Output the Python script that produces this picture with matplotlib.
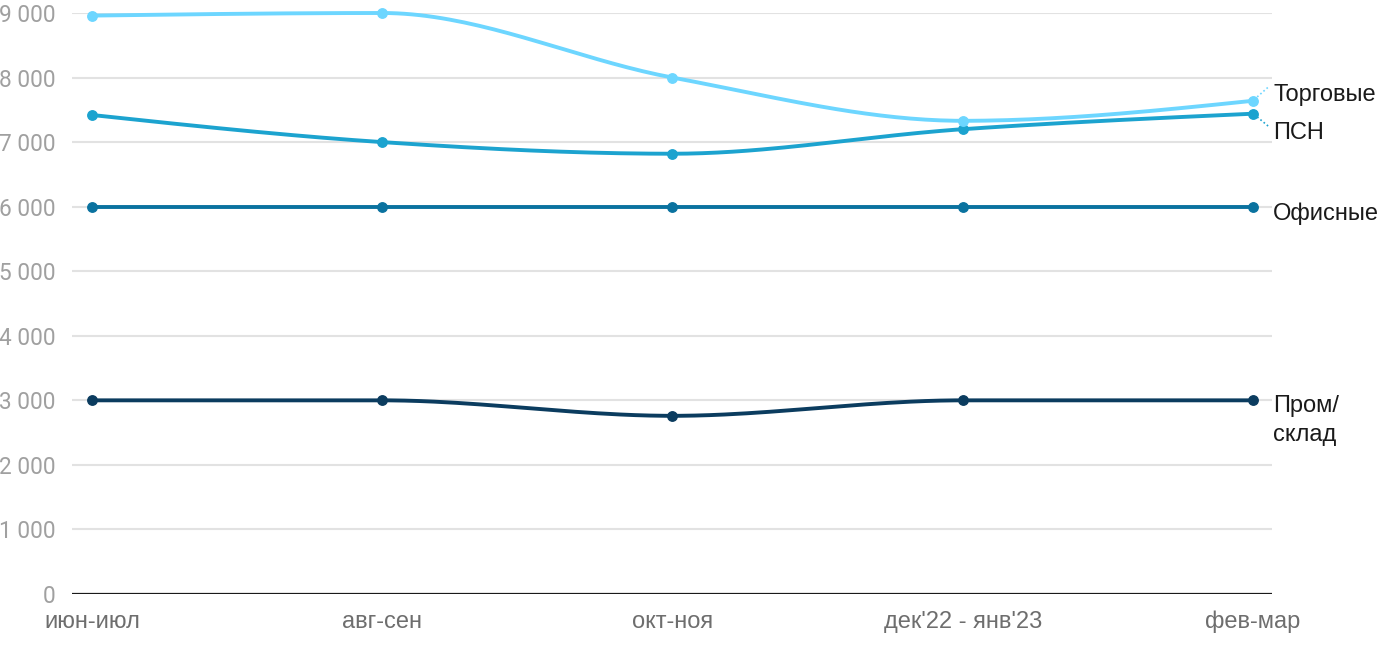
import numpy as np
import matplotlib
matplotlib.use("Agg")
import matplotlib.pyplot as plt
from matplotlib.ticker import FuncFormatter

# periods
periods = ["июн-июл", "авг-сен", "окт-ноя", "дек'22 - янв'23", "фев-мар"]

# series values
torg = [8960, 9000, 8000, 7330, 7640]
psn = [7420, 7000, 6820, 7200, 7440]
ofis = [6000, 6000, 6000, 6000, 6000]
prom = [3000, 3000, 2760, 3000, 3000]

names = ["Торговые", "ПСН", "Офисные", "Пром/\nсклад"]
colors = ["#6dd6ff", "#1ca3cf", "#0a729f", "#0b3c5f"]
y_ticks = [0, 1000, 2000, 3000, 4000, 5000, 6000, 7000, 8000, 9000]


# monotone cubic curve through the points (like d3 curveMonotoneX)
def monotone(x, y, n=40):
    x = np.asarray(x, float)
    y = np.asarray(y, float)
    h = np.diff(x)
    d = np.diff(y) / h
    m = np.zeros_like(y)
    for i in range(1, len(y) - 1):
        if d[i - 1] * d[i] <= 0:
            m[i] = 0
        else:
            s = (d[i - 1] * h[i] + d[i] * h[i - 1]) / (h[i - 1] + h[i])
            m[i] = np.sign(s) * min(abs(s), 2 * min(abs(d[i - 1]), abs(d[i])))
    m[0] = (3 * d[0] - m[1]) / 2 if len(y) > 2 else d[0]
    m[-1] = (3 * d[-1] - m[-2]) / 2 if len(y) > 2 else d[-1]
    if m[0] * d[0] <= 0:
        m[0] = 0
    if m[-1] * d[-1] <= 0:
        m[-1] = 0
    xs, ys = [], []
    for i in range(len(h)):
        t = np.linspace(0, 1, n)
        h00 = 2 * t**3 - 3 * t**2 + 1
        h10 = t**3 - 2 * t**2 + t
        h01 = -2 * t**3 + 3 * t**2
        h11 = t**3 - t**2
        xs.append(x[i] + t * h[i])
        ys.append(h00 * y[i] + h10 * h[i] * m[i] + h01 * y[i + 1] + h11 * h[i] * m[i + 1])
    return np.concatenate(xs), np.concatenate(ys)


fig = plt.figure(figsize=(14, 6.5), dpi=100)
ax = fig.add_axes([72 / 1400, (650 - 594) / 650, 1200 / 1400, (594 - 13) / 650])

x = np.arange(len(periods))
for vals, col in zip([prom, ofis, psn, torg], colors[::-1]):
    sx, sy = monotone(x, vals)
    ax.plot(sx, sy, color=col, lw=2.8, solid_capstyle="round", zorder=3, clip_on=False)
    ax.plot(x, vals, "o", color=col, ms=6.8, zorder=4, clip_on=False)

ax.set_xlim(-0.069, 4.066)
ax.set_ylim(0, 9000)
ax.set_yticks(y_ticks)
ax.yaxis.set_major_formatter(FuncFormatter(lambda v, p: f"{int(v):,}".replace(",", " ")))
ax.set_xticks(x)
ax.set_xticklabels(periods)

for s in ax.spines.values():
    s.set_visible(False)
ax.grid(axis="y", color="#e2e2e2", lw=1.5, zorder=0)
ax.axhline(0, color="#1a1a1a", lw=1.6, zorder=2)
ax.tick_params(axis="both", length=0)
ax.tick_params(axis="y", pad=12, labelsize=16.3, labelcolor="#a0a0a0")
ax.tick_params(axis="x", pad=12, labelsize=17, labelcolor="#6e6e6e")
for lab in ax.get_yticklabels():
    lab.set_fontfamily("Roboto")
for lab in ax.get_xticklabels():
    lab.set_fontfamily("Liberation Sans")

# direct labels on the right
lx = 4.07
lab_kw = dict(fontsize=17, color="#1a1a1a", family="Liberation Sans", va="center", ha="left")
ax.text(lx, 7735, names[0], **lab_kw)
ax.text(lx, 7145, names[1], **lab_kw)
ax.text(lx, 5885, names[2], **lab_kw)
ax.text(lx, 3090, names[3], fontsize=17, color="#1a1a1a", family="Liberation Sans",
        va="top", ha="left", linespacing=1.45)

# dotted leader lines
ax.plot([4.015, 4.055], [7700, 7860], ls=(0, (1, 1.5)), color=colors[0], lw=1.2, clip_on=False)
ax.plot([4.015, 4.055], [7390, 7240], ls=(0, (1, 1.5)), color=colors[1], lw=1.2, clip_on=False)

fig.savefig("out.png", dpi=100)
